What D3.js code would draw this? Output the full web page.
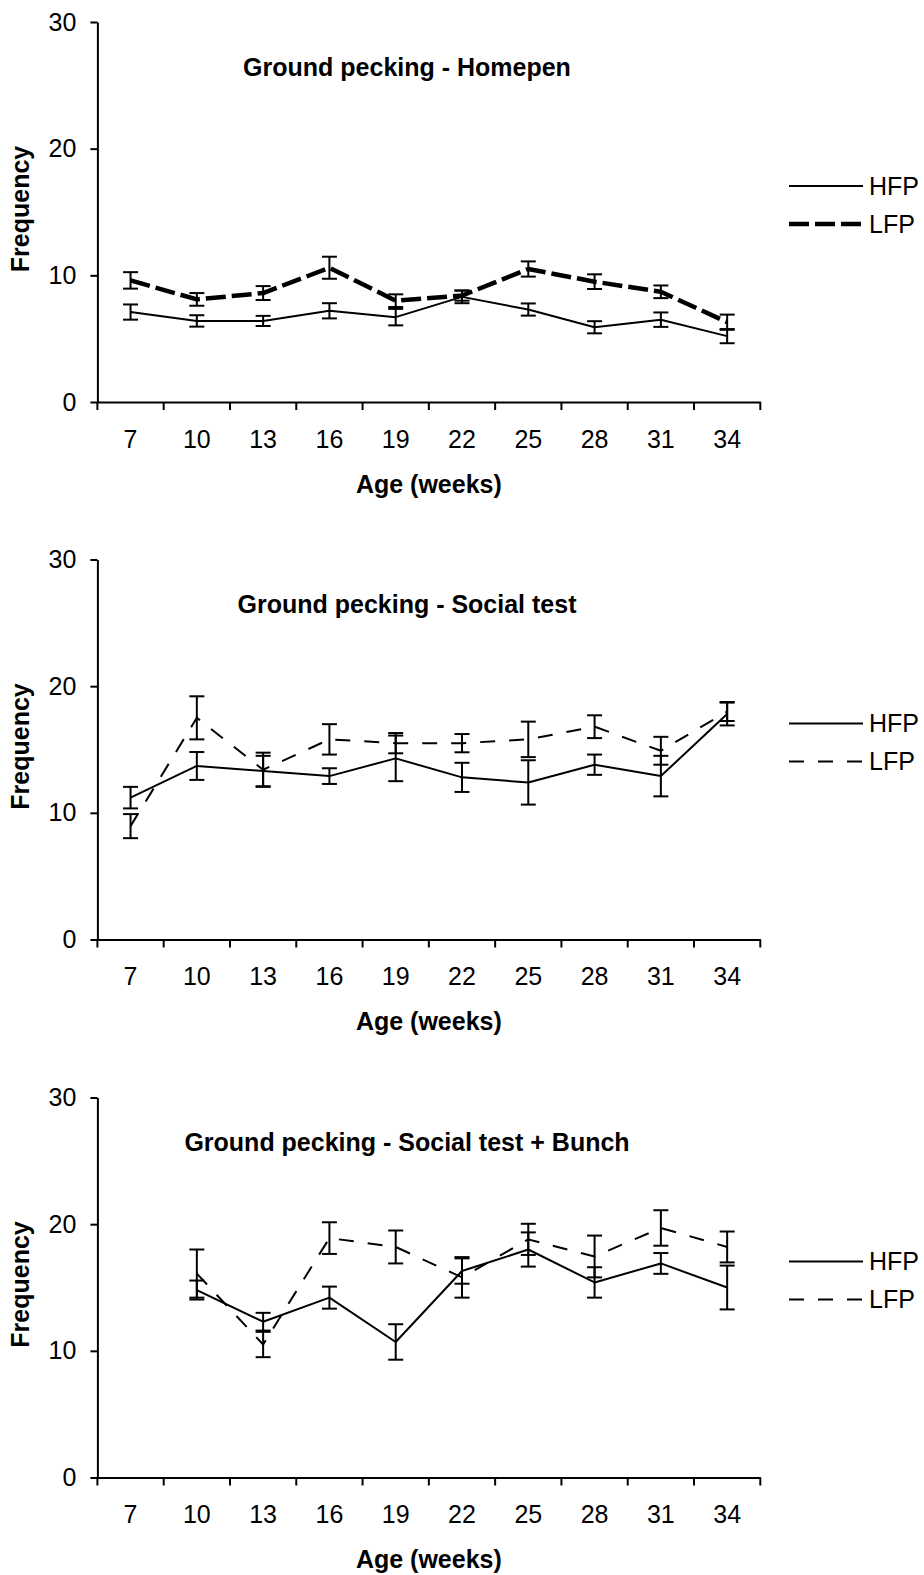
<!DOCTYPE html>
<html>
<head>
<meta charset="utf-8">
<script src="https://cdn.jsdelivr.net/npm/d3@7"></script>
<style>
  body { margin: 0; background: #fff; }
  svg text { font-family: "Liberation Sans", Arial, sans-serif; fill: #000; }
</style>
</head>
<body>
<svg id="chart" width="924" height="1575"></svg>
<script>
// Age in weeks (categories shared by all three panels)
const weeks = [7, 10, 13, 16, 19, 22, 25, 28, 31, 34];
const yTicks = [0, 10, 20, 30];
const seriesNames = ["HFP", "LFP"];

// Ground pecking in the home pen
const homepenHFP   = [7.1, 6.4, 6.4, 7.2, 6.7, 8.3, 7.3, 5.9, 6.5, 5.2];
const homepenHFPse = [0.6, 0.45, 0.4, 0.6, 0.65, 0.5, 0.48, 0.48, 0.57, 0.56];
const homepenLFP   = [9.6, 8.1, 8.6, 10.6, 8.0, 8.4, 10.5, 9.5, 8.7, 6.3];
const homepenLFPse = [0.65, 0.5, 0.55, 0.87, 0.5, 0.4, 0.6, 0.58, 0.5, 0.6];

// Ground pecking in the social test
const socialHFP   = [11.2, 13.7, 13.3, 12.9, 14.3, 12.8, 12.4, 13.8, 12.9, 17.8];
const socialHFPse = [0.85, 1.1, 1.2, 0.62, 1.8, 1.15, 1.75, 0.8, 1.6, 0.9];
const socialLFP   = [8.95, 17.5, 13.4, 15.8, 15.5, 15.5, 15.8, 16.8, 14.9, 18.0];
const socialLFPse = [0.95, 1.7, 1.35, 1.2, 0.8, 0.72, 1.4, 0.9, 1.1, 0.75];

// Ground pecking in the social test with a bunch (no data at week 7)
const bunchHFP   = [null, 14.8, 12.3, 14.2, 10.7, 16.3, 18.0, 15.4, 16.9, 15.0];
const bunchHFPse = [null, 0.75, 0.7, 0.87, 1.4, 1.0, 1.35, 1.2, 0.82, 1.73];
const bunchLFP   = [null, 16.1, 10.5, 18.9, 18.2, 15.8, 18.8, 17.45, 19.7, 18.2];
const bunchLFPse = [null, 1.9, 1.0, 1.25, 1.3, 1.6, 1.23, 1.65, 1.4, 1.22];

const titles = [
  "Ground pecking - Homepen",
  "Ground pecking - Social test",
  "Ground pecking - Social test + Bunch"
];

const panels = [
  { title: titles[0], hfp: homepenHFP, hfpSe: homepenHFPse, lfp: homepenLFP, lfpSe: homepenLFPse, bold: true },
  { title: titles[1], hfp: socialHFP,  hfpSe: socialHFPse,  lfp: socialLFP,  lfpSe: socialLFPse,  bold: false },
  { title: titles[2], hfp: bunchHFP,   hfpSe: bunchHFPse,   lfp: bunchLFP,   lfpSe: bunchLFPse,   bold: false }
];

const svg = d3.select("#chart");
const left = 97.4, right = 760.3;
const plotH = 380;
const panelTop = [22, 559.5, 1097.5];

const x = d3.scaleBand().domain(weeks).range([left, right]).padding(0);
const y = d3.scaleLinear().domain([0, 30]).range([plotH, 0]);

function lineStyle(name, bold) {
  if (name === "HFP") return { width: 2, dash: null };
  return bold ? { width: 4.5, dash: "20,6" } : { width: 2, dash: "15,14" };
}

panels.forEach((p, i) => {
  const g = svg.append("g").attr("transform", `translate(0,${panelTop[i]})`);

  // y axis
  const yAxis = d3.axisLeft(y).tickValues(yTicks).tickSize(7).tickSizeOuter(0).tickPadding(14);
  const ya = g.append("g").attr("transform", `translate(${left},0)`).call(yAxis);
  ya.select(".domain").attr("stroke", "#000").attr("stroke-width", 2);
  ya.selectAll(".tick line").attr("stroke", "#000").attr("stroke-width", 2);
  ya.selectAll(".tick text").attr("font-size", 25).attr("fill", "#000");

  // x axis: labels at category centres, tick marks at category boundaries
  const xAxis = d3.axisBottom(x).tickSize(0).tickSizeOuter(0).tickPadding(28);
  const xa = g.append("g").attr("transform", `translate(0,${plotH})`).call(xAxis);
  xa.select(".domain").attr("stroke", "#000").attr("stroke-width", 2);
  xa.selectAll(".tick text").attr("font-size", 25).attr("fill", "#000");
  const bounds = weeks.map(w => x(w)).concat([x(weeks[weeks.length - 1]) + x.bandwidth()]);
  g.append("g").selectAll("line").data(bounds).join("line")
    .attr("x1", d => d).attr("x2", d => d)
    .attr("y1", plotH).attr("y2", plotH + 8)
    .attr("stroke", "#000").attr("stroke-width", 2);

  // titles
  g.append("text").attr("x", 407).attr("y", 45).attr("dy", "0.35em")
    .attr("text-anchor", "middle").attr("font-size", 25).attr("font-weight", "bold")
    .text(p.title);
  g.append("text").attr("x", (left + right) / 2).attr("y", plotH + 82).attr("dy", "0.35em")
    .attr("text-anchor", "middle").attr("font-size", 25).attr("font-weight", "bold")
    .text("Age (weeks)");
  g.append("text").attr("transform", `translate(20,${plotH / 2 - 3}) rotate(-90)`)
    .attr("dy", "0.35em").attr("text-anchor", "middle")
    .attr("font-size", 25).attr("font-weight", "bold")
    .text("Frequency");

  const cx = w => x(w) + x.bandwidth() / 2;

  [["HFP", p.hfp, p.hfpSe], ["LFP", p.lfp, p.lfpSe]].forEach(([name, vals, se]) => {
    const pts = weeks.map((w, k) => ({ w, v: vals[k], e: se[k] })).filter(d => d.v != null);
    const st = lineStyle(name, p.bold);

    // error bars
    const eb = g.append("g").attr("stroke", "#000").attr("stroke-width", 2);
    eb.selectAll("line.v").data(pts).join("line").attr("class", "v")
      .attr("x1", d => cx(d.w)).attr("x2", d => cx(d.w))
      .attr("y1", d => y(d.v + d.e)).attr("y2", d => y(d.v - d.e));
    eb.selectAll("line.t").data(pts).join("line").attr("class", "t")
      .attr("x1", d => cx(d.w) - 7.5).attr("x2", d => cx(d.w) + 7.5)
      .attr("y1", d => y(d.v + d.e)).attr("y2", d => y(d.v + d.e));
    eb.selectAll("line.b").data(pts).join("line").attr("class", "b")
      .attr("x1", d => cx(d.w) - 7.5).attr("x2", d => cx(d.w) + 7.5)
      .attr("y1", d => y(d.v - d.e)).attr("y2", d => y(d.v - d.e));

    // series line
    const line = d3.line().x(d => cx(d.w)).y(d => y(d.v));
    g.append("path").datum(pts).attr("d", line)
      .attr("fill", "none").attr("stroke", "#000")
      .attr("stroke-width", st.width)
      .attr("stroke-dasharray", st.dash)
      .attr("stroke-linejoin", "round");
  });

  // legend
  const lg = g.append("g");
  seriesNames.forEach((name, k) => {
    const st = lineStyle(name, p.bold);
    const ly = 164 + k * 38;
    lg.append("line").attr("x1", 789).attr("x2", 863).attr("y1", ly).attr("y2", ly)
      .attr("stroke", "#000").attr("stroke-width", st.width)
      .attr("stroke-dasharray", st.dash);
    lg.append("text").attr("x", 869).attr("y", ly).attr("dy", "0.35em")
      .attr("font-size", 25).text(name);
  });
});
</script>
</body>
</html>
